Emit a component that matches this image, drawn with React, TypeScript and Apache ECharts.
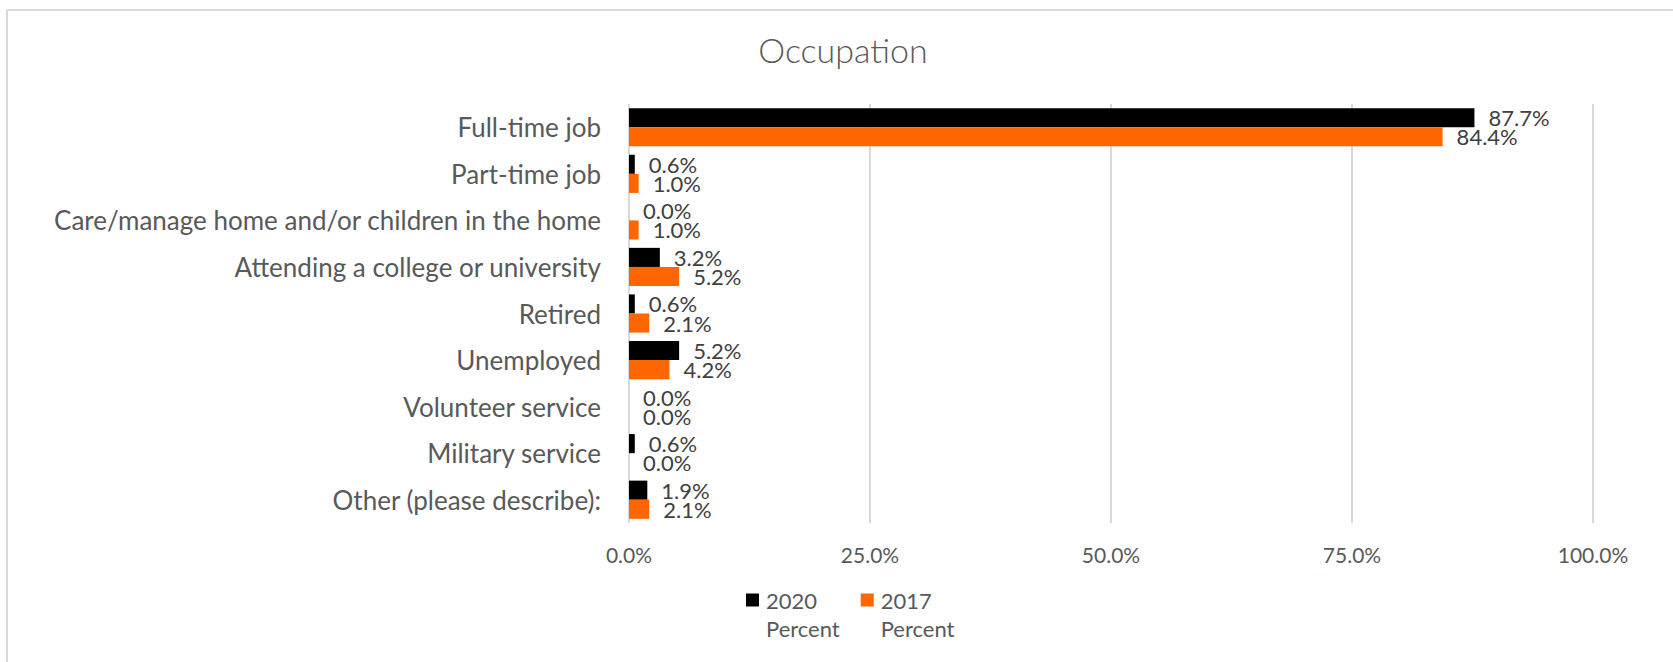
import React, { useEffect, useRef } from "react";
import * as echarts from "echarts";

const categories = [
  "Full-time job",
  "Part-time job",
  "Care/manage home and/or children in the home",
  "Attending a college or university",
  "Retired",
  "Unemployed",
  "Volunteer service",
  "Military service",
  "Other (please describe):",
];
const values2020 = [87.7, 0.6, 0.0, 3.2, 0.6, 5.2, 0.0, 0.6, 1.9];
const values2017 = [84.4, 1.0, 1.0, 5.2, 2.1, 4.2, 0.0, 0.0, 2.1];
const xTicks = { min: 0, max: 100, interval: 25 };
const seriesNames = ["2020 Percent", "2017 Percent"];

const FONT = "Lato, 'Open Sans', sans-serif";
const legendIcon =
  "path://M0,0L0.01,0L0.01,0.01Z M0,7.5L13,7.5L13,20.5L0,20.5Z M0,55.99L0.01,56L0,56Z";

export default function App() {
  const ref = useRef<HTMLDivElement>(null);
  useEffect(() => {
    if (!ref.current) return;
    const chart = echarts.init(ref.current, undefined, { renderer: "svg" });
    const label = {
      show: true,
      position: "right",
      distance: 14,
      color: "#404040",
      fontSize: 22,
      fontFamily: FONT,
      formatter: (p: any) => Number(p.value).toFixed(1) + "%",
    };
    chart.setOption({
      animation: false,
      backgroundColor: "#ffffff",
      title: {
        text: "Occupation",
        left: 838,
        top: 27,
        textAlign: "center",
        textStyle: { color: "#595959", fontSize: 34, fontWeight: 300, fontFamily: FONT },
      },
      graphic: [
        { type: "line", shape: { x1: 7, y1: 10, x2: 1673, y2: 10 }, style: { stroke: "#d9d9d9", lineWidth: 2 } },
        { type: "line", shape: { x1: 7, y1: 10, x2: 7, y2: 662 }, style: { stroke: "#d9d9d9", lineWidth: 2 } },
      ],
      legend: {
        left: 741,
        top: 581,
        itemWidth: 13,
        itemHeight: 56,
        itemGap: 21,
        icon: legendIcon,
        formatter: (n: string) => n.replace(" ", "\n"),
        textStyle: { color: "#595959", fontSize: 22, fontFamily: FONT, lineHeight: 28, padding: [0, 0, 0, 2] },
        data: seriesNames,
      },
      grid: { left: 629, right: 80, top: 104, bottom: 139, containLabel: false },
      xAxis: {
        type: "value",
        min: xTicks.min,
        max: xTicks.max,
        interval: xTicks.interval,
        axisLine: { show: false },
        axisTick: { show: false },
        splitLine: { show: true, lineStyle: { color: "#d9d9d9", width: 2 } },
        axisLabel: {
          color: "#595959",
          fontSize: 21,
          fontFamily: FONT,
          margin: 21,
          formatter: (v: number) => v.toFixed(1) + "%",
        },
      },
      yAxis: {
        type: "category",
        inverse: true,
        data: categories,
        axisLine: { show: false },
        axisTick: { show: false },
        axisLabel: { color: "#595959", fontSize: 26, fontFamily: FONT, margin: 28 },
      },
      series: [
        {
          name: seriesNames[0],
          type: "bar",
          data: values2020,
          barGap: "0%",
          barCategoryGap: "18%",
          itemStyle: { color: "#000000" },
          label,
        },
        {
          name: seriesNames[1],
          type: "bar",
          data: values2017,
          itemStyle: { color: "#FF6600" },
          label,
        },
      ],
    });
    return () => chart.dispose();
  }, []);
  return (
    <div
      ref={ref}
      style={{ position: "absolute", left: 0, top: 0, width: 1673, height: 662 }}
    />
  );
}
